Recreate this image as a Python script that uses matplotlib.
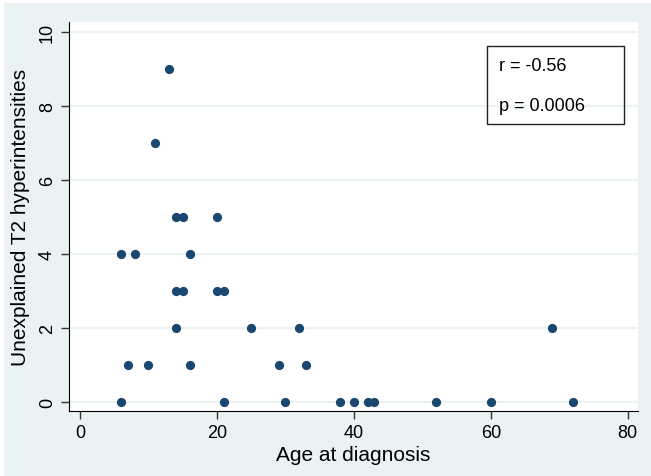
import matplotlib
matplotlib.use('Agg')
import matplotlib.pyplot as plt

plt.rcParams['font.family'] = ['Liberation Sans', 'DejaVu Sans']

#Age at diagnosis and count of unexplained T2 hyperintensities
age = [13, 11,
       14, 15, 20,
       6, 8, 16,
       14, 15, 20, 21,
       14, 25, 32, 69,
       7, 10, 16, 29, 33,
       6, 21, 30, 38, 40, 42, 43, 52, 60, 72]
lesions = [9, 7,
           5, 5, 5,
           4, 4, 4,
           3, 3, 3, 3,
           2, 2, 2, 2,
           1, 1, 1, 1, 1,
           0, 0, 0, 0, 0, 0, 0, 0, 0, 0]
x_ticks = [0, 20, 40, 60, 80]
y_ticks = [0, 2, 4, 6, 8, 10]
stats_text = ['r = -0.56', 'p = 0.0006']

bg = '#eaf2f3'
navy = '#1a476f'

fig = plt.figure(figsize=(6.51, 4.77), dpi=100, facecolor='white')
#graph region (thin white strip on the top and left edges)
fig.add_artist(plt.Rectangle((4 / 651, 0), 1, 1 - 4 / 477, transform=fig.transFigure,
                             facecolor=bg, edgecolor='none', zorder=-1))
ax = fig.add_axes([0.106, 0.136, 0.874, 0.816])
ax.set_facecolor('white')

ax.scatter(age, lesions, s=44, color=navy, zorder=3, linewidths=0)

ax.set_xlim(-1.6, 81.5)
ax.set_ylim(-0.243, 10.27)
ax.set_xticks(x_ticks)
ax.set_yticks(y_ticks)
ax.tick_params(axis='both', direction='out', length=6, width=1, labelsize=13, color='#333333')
ax.tick_params(axis='y', labelrotation=90)
for lab in ax.get_yticklabels():
    lab.set_va('center')
ax.yaxis.grid(True, color=bg, linewidth=1.5, zorder=0)
ax.set_axisbelow(True)

for side in ['top', 'right']:
    ax.spines[side].set_visible(False)
ax.spines['left'].set_color('black')
ax.spines['bottom'].set_color('black')

ax.set_xlabel('Age at diagnosis', fontsize=15, labelpad=3)
ax.set_ylabel('Unexplained T2 hyperintensities', fontsize=15, labelpad=6)

#stats box
ax.add_patch(plt.Rectangle((59.4, 7.51), 20.0, 2.11, fill=False, edgecolor='#222222', linewidth=1, zorder=4))
ax.text(61.2, 9.08, stats_text[0], fontsize=13, va='center', ha='left')
ax.text(61.2, 8.0, stats_text[1], fontsize=13, va='center', ha='left')

fig.savefig('out.png', dpi=100, facecolor='white')
